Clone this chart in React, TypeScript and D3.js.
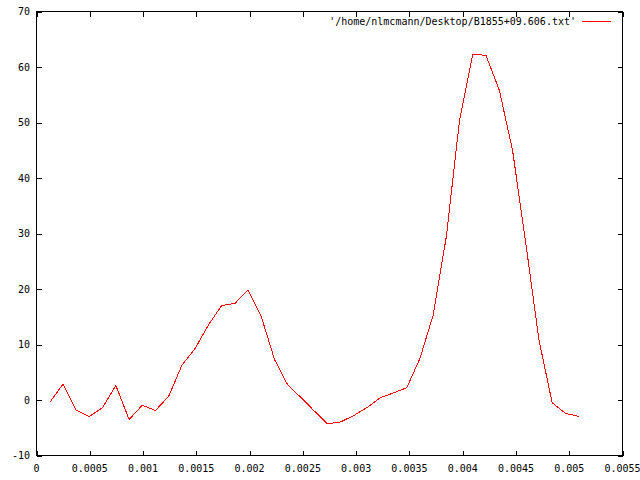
import React from "react";
import * as d3 from "d3";

const xValues = [
  0.000124, 0.000248, 0.000372, 0.000496, 0.000621, 0.000745, 0.000869, 0.000993,
  0.001117, 0.001241, 0.001365, 0.001489, 0.001613, 0.001737, 0.001862, 0.001986,
  0.00211, 0.002234, 0.002358, 0.002482, 0.002606, 0.00273, 0.002854, 0.002978,
  0.003103, 0.003227, 0.003351, 0.003475, 0.003599, 0.003723, 0.003847, 0.003971,
  0.004095, 0.004219, 0.004344, 0.004468, 0.004592, 0.004716, 0.00484, 0.004964,
  0.005088,
];
const yValues = [
  -0.45, 2.85, -1.84, -2.97, -1.35, 2.61, -3.51, -0.94,
  -1.89, 0.7, 6.27, 9.28, 13.5, 17.0, 17.4, 19.8,
  15.0, 7.3, 2.7, 0.45, -1.96, -4.3, -3.95, -2.8,
  -1.35, 0.4, 1.28, 2.2, 7.5, 15.3, 29.5, 50.5,
  62.3, 62.1, 55.8, 45.0, 28.3, 10.8, -0.5, -2.4,
  -2.95,
];
const xTicks = [0, 0.0005, 0.001, 0.0015, 0.002, 0.0025, 0.003, 0.0035, 0.004, 0.0045, 0.005, 0.0055];
const xTickLabels = ["0", "0.0005", "0.001", "0.0015", "0.002", "0.0025", "0.003", "0.0035", "0.004", "0.0045", "0.005", "0.0055"];
const yTicks = [-10, 0, 10, 20, 30, 40, 50, 60, 70];
const yTickLabels = ["-10", "0", "10", "20", "30", "40", "50", "60", "70"];
const legendLabel = "'/home/nlmcmann/Desktop/B1855+09.606.txt'";

const W = 640;
const H = 480;
const L = 36.5, R = 622.5, T = 11.5, B = 455.5;
const TICK = 5;
const FONT = "'DejaVu Sans Mono', monospace";

export default function App() {
  const x = d3.scaleLinear().domain([0, 0.0055]).range([L, R]);
  const y = d3.scaleLinear().domain([-10, 70]).range([B, T]);
  const pts: [number, number][] = xValues.map((v, i) => [v, yValues[i]]);
  const line = d3
    .line<[number, number]>()
    .x((d) => x(d[0]))
    .y((d) => y(d[1]));

  return (
    <svg
      width={W}
      height={H}
      viewBox={`0 0 ${W} ${H}`}
      style={{ position: "absolute", left: 0, top: 0, background: "#fff" }}
    >
      <rect x={0} y={0} width={W} height={H} fill="#fff" />
      <g stroke="#000" strokeWidth={1} shapeRendering="crispEdges">
        {yTicks.map((t) => (
          <g key={"yt" + t}>
            <line x1={L} x2={L + TICK} y1={Math.round(y(t)) + 0.5} y2={Math.round(y(t)) + 0.5} />
            <line x1={R} x2={R - TICK} y1={Math.round(y(t)) + 0.5} y2={Math.round(y(t)) + 0.5} />
          </g>
        ))}
        {xTicks.map((t) => (
          <g key={"xt" + t}>
            <line x1={Math.round(x(t)) + 0.5} x2={Math.round(x(t)) + 0.5} y1={B} y2={B - TICK} />
            <line x1={Math.round(x(t)) + 0.5} x2={Math.round(x(t)) + 0.5} y1={T} y2={T + TICK} />
          </g>
        ))}
        <rect x={L} y={T} width={R - L} height={B - T} fill="none" />
      </g>
      <g fontFamily={FONT} fontSize={10} fill="#000">
        {yTicks.map((t, i) => (
          <text key={"yl" + t} x={30} y={y(t)} dy="0.35em" textAnchor="end">
            {yTickLabels[i]}
          </text>
        ))}
        {xTicks.map((t, i) => (
          <text key={"xl" + t} x={x(t)} y={468.5} dy="0.35em" textAnchor="middle">
            {xTickLabels[i]}
          </text>
        ))}
        <text x={576} y={21} dy="0.35em" textAnchor="end">
          {legendLabel}
        </text>
      </g>
      <line x1={582} x2={611} y1={21.5} y2={21.5} stroke="#f00" strokeWidth={1} shapeRendering="crispEdges" />
      <path d={line(pts) || ""} fill="none" stroke="#f00" strokeWidth={1} shapeRendering="crispEdges" />
    </svg>
  );
}
